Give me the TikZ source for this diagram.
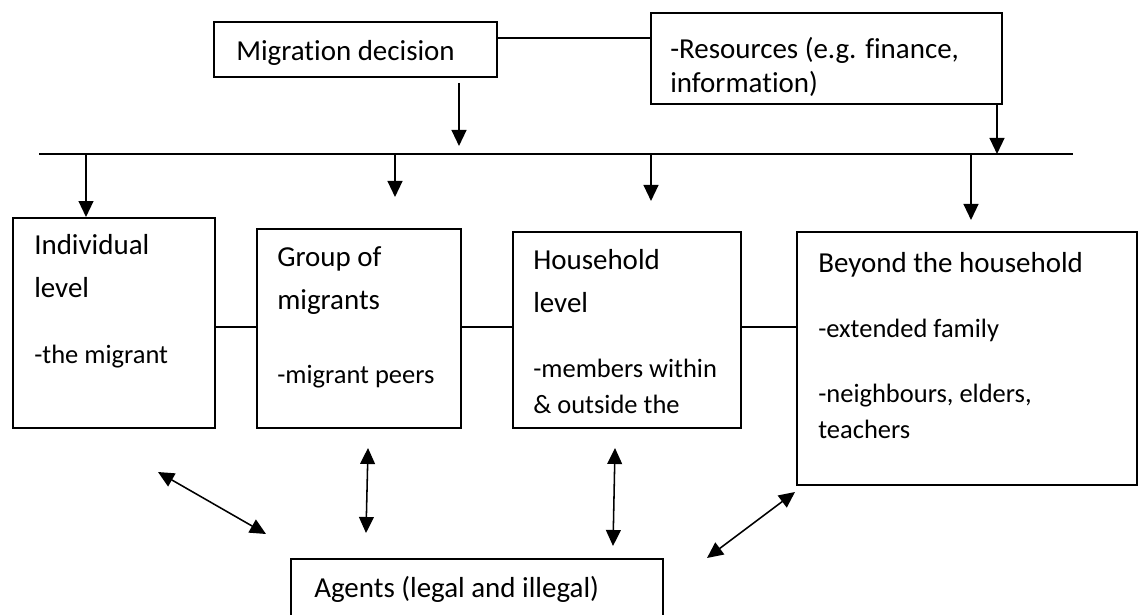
\documentclass[tikz,border=0pt]{standalone}
\usepackage{fontspec}
\setmainfont{Carlito}[Ligatures=NoCommon]
\usetikzlibrary{arrows.meta}
\tikzset{
  box/.style={draw,line width=1.4pt,inner sep=0pt},
  link/.style={line width=1.3pt},
  head/.style={font=\fontsize{20.6pt}{25pt}\selectfont,anchor=base west,inner sep=0pt},
  item/.style={font=\fontsize{18.85pt}{23pt}\selectfont,anchor=base west,inner sep=0pt},
  arr/.style={line width=1.3pt,-{Triangle[length=0.4cm,width=0.37cm]}},
  dblarr/.style={line width=1.1pt,{Triangle[length=0.4cm,width=0.37cm]}-{Triangle[length=0.4cm,width=0.37cm]}}
}

\begin{document}
\begin{tikzpicture}
% page frame, 1 px of the original = 0.025 cm
\fill[white] (0,0) rectangle (28.5,15.35);
\useasboundingbox (0,0) rectangle (28.5,15.35);

% top row
\node[box,minimum width=7.075cm,minimum height=1.375cm] (decision) at (8.8875,14.1125) {};
\node[head] (decisiontxt) at (5.9,13.825) {Migration decision};
\node[box,minimum width=8.775cm,minimum height=2.275cm] (resources) at (20.6625,13.8875) {};
\node[head] (restxt1) at (16.75,13.875) {-Resources (e.g. finance,};
\node[head] (restxt2) at (16.75,13.025) {information)};
\draw[link] ([yshift=0.2875cm]decision.east) -- ([yshift=0.2875cm]decision.east -| resources.west);

% bar with arrows
\coordinate (barL) at (0.975,11.5);
\coordinate (barR) at (26.825,11.5);
\draw[link] (barL) -- (barR);
\coordinate (d1) at (11.475,13.275);
\coordinate (d2) at (11.475,11.7);
\draw[arr] (d1) -- (d2);
\coordinate (r1) at (24.925,11.5);
\draw[arr] (resources.south -| r1) -- (r1);

% level boxes
\node[box,minimum width=5.05cm,minimum height=5.25cm] (indiv) at (2.85,7.275) {};
\node[box,minimum width=5.1cm,minimum height=4.975cm] (group) at (8.975,7.1375) {};
\node[box,minimum width=5.7cm,minimum height=4.9cm] (house) at (15.675,7.1) {};
\node[box,minimum width=8.5cm,minimum height=6.325cm] (beyond) at (24.175,6.3875) {};

\coordinate (b1) at (2.15,11.5);
\draw[arr] (b1) -- (b1 |- indiv.north);
\coordinate (b2) at (9.875,11.5);
\coordinate (t2) at (9.875,10.425);
\draw[arr] (b2) -- (t2);
\coordinate (b3) at (16.275,11.5);
\coordinate (t3) at (16.275,10.325);
\draw[arr] (b3) -- (t3);
\coordinate (b4) at (24.275,11.5);
\coordinate (t4) at (24.275,9.85);
\draw[arr] (b4) -- (t4);

\coordinate (mid) at (0,7.175);
\draw[link] (indiv.east |- mid) -- (group.west |- mid);
\draw[link] (group.east |- mid) -- (house.west |- mid);
\draw[link] (house.east |- mid) -- (beyond.west |- mid);

\node[head] (indivtxt1) at (0.85,8.975) {Individual};
\node[head] (indivtxt2) at (0.85,7.9) {level};
\node[item] (indivtxt3) at (0.85,6.275) {-the migrant};

\node[head] (grouptxt1) at (6.925,8.675) {Group of};
\node[head] (grouptxt2) at (6.925,7.625) {migrants};
\node[item] (grouptxt3) at (6.925,5.775) {-migrant peers};

\node[head] (housetxt1) at (13.325,8.6) {Household};
\node[head] (housetxt2) at (13.325,7.55) {level};
\node[item] (housetxt3) at (13.325,5.925) {-members within};
\node[item] (housetxt4) at (13.325,5.025) {\& outside the};

\node[head] (beyondtxt1) at (20.45,8.55) {Beyond the household};
\node[item] (beyondtxt2) at (20.45,6.925) {-extended family};
\node[item] (beyondtxt3) at (20.45,5.3) {-neighbours, elders,};
\node[item] (beyondtxt4) at (20.45,4.4) {teachers};

% agents and the two-way arrows
\node[box,minimum width=9.3cm,minimum height=1.675cm] (agents) at (11.925,0.5375) {};
\node[head] (agentstxt) at (7.85,0.425) {Agents (legal and illegal)};

\coordinate (a1) at (3.95,3.55);
\coordinate (a2) at (6.65,2.0);
\draw[dblarr] (a1) -- (a2);
\coordinate (a3) at (9.2,4.15);
\coordinate (a4) at (9.15,2.025);
\draw[dblarr] (a3) -- (a4);
\coordinate (a5) at (15.375,4.15);
\coordinate (a6) at (15.325,1.7);
\draw[dblarr] (a5) -- (a6);
\coordinate (a7) at (19.875,3.05);
\coordinate (a8) at (17.675,1.4);
\draw[dblarr] (a7) -- (a8);
\end{tikzpicture}
\end{document}
